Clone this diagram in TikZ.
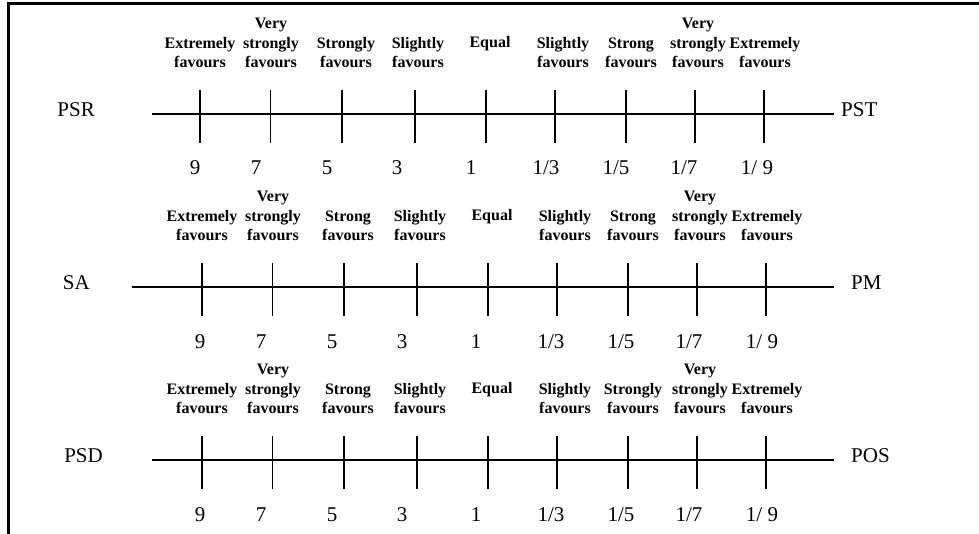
\documentclass[tikz,border=0pt]{standalone}
\usepackage{fontspec}
\setmainfont{Liberation Serif}
\usetikzlibrary{positioning}

\begin{document}
\begin{tikzpicture}[x=1pt,y=-1pt,
        head/.style={font=\fontsize{16}{19.5}\selectfont\bfseries, align=center, anchor=south, inner sep=0pt},
        val/.style={font=\fontsize{21}{24}\selectfont, anchor=base, inner sep=0pt},
        crit/.style={font=\fontsize{21}{24}\selectfont, inner sep=0pt},
        axisline/.style={line width=2pt},
        scaletick/.style={line width=2pt},
        thintick/.style={line width=1pt},
        frame/.style={line width=3pt}]
        \useasboundingbox (0,0) rectangle (979,534);
        \draw[frame] (8,534) -- (8,4) -- (979,4);

        \foreach \r/\y/\xa/\dx/\nd/\lname/\lx/\rname/\rx/\sa/\sb in {
            1/114/152/-2/-5/PSR/95/PST/841/Strongly/Strong,
            2/287/132/0/0/SA/90/PM/851/Strong/Strong,
            3/460/152/0/0/PSD/103/POS/851/Strong/Strongly}{
            % les deux criteres compares
            \node[crit, anchor=east] (l\r) at (\lx,\y-4) {\lname};
            \node[crit, anchor=west] (r\r) at (\rx,\y-4) {\rname};

            \coordinate (a\r) at (\xa,\y);
            \coordinate (b\r) at (834,\y);
            \draw[axisline] (a\r) -- (b\r);

            % graduations et valeurs
            \foreach \i/\tx/\nx/\ts/\num in {1/202/200/scaletick/9, 2/272/261/thintick/7,
                3/344/332/scaletick/5, 4/417/402/scaletick/3, 5/488/476/scaletick/1,
                6/557/551/scaletick/{1/3}, 7/628/621/scaletick/{1/5},
                8/697/689/scaletick/{1/7}, 9/766/762/scaletick/{1/ 9}}{
                \coordinate (k\r-\i) at (\tx+\dx,\y);
                \draw[\ts] (k\r-\i) ++(0,-24) -- ++(0,53);
                \node[val] (v\r-\i) at (\nx+\nd,\y+61) {\num};
            }

            % echelle verbale
            \foreach \i/\hx/\txt in {1/202/Extremely\\favours, 2/273/Very\\strongly\\favours,
                3/348/\sa\\favours, 4/420/Slightly\\favours, 6/565/Slightly\\favours,
                7/633/\sb\\favours, 8/700/Very\\strongly\\favours, 9/767/Extremely\\favours}{
                \node[head] (h\r-\i) at (\hx+\dx,\y-46) {\txt};
            }
            \node[head] (h\r-5) at (492+\dx,\y-63) {Equal};
        }
    \end{tikzpicture}
\end{document}
